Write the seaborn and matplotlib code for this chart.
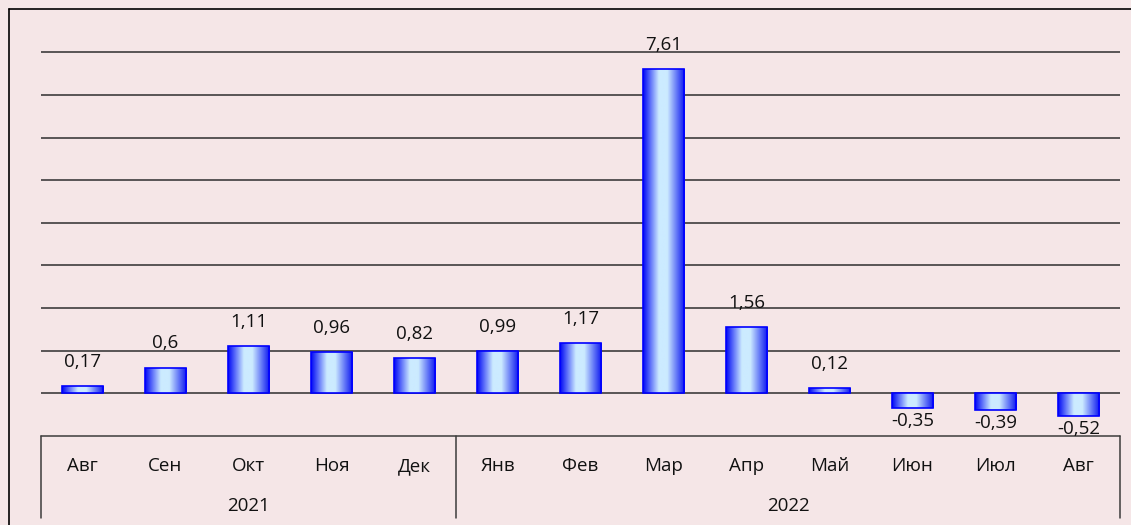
import numpy as np
import pandas as pd
import matplotlib
matplotlib.use("Agg")
import matplotlib.pyplot as plt
import matplotlib.transforms as mtransforms
from matplotlib.colors import LinearSegmentedColormap
from matplotlib.lines import Line2D
import seaborn as sns

# data
months = ["Авг", "Сен", "Окт", "Ноя", "Дек", "Янв", "Фев", "Мар", "Апр", "Май", "Июн", "Июл", "Авг"]
years = ["2021"] * 5 + ["2022"] * 8
values = [0.17, 0.6, 1.11, 0.96, 0.82, 0.99, 1.17, 7.61, 1.56, 0.12, -0.35, -0.39, -0.52]

df = pd.DataFrame({"month": months, "year": years, "value": values})
df["period"] = df["year"] + "-" + df.index.astype(str)

bg = "#F5E6E7"
sns.set_theme(style="white", rc={"axes.facecolor": bg, "figure.facecolor": bg})
plt.rcParams["font.family"] = ["Open Sans", "DejaVu Sans"]

fig = plt.figure(figsize=(11.31, 5.25), dpi=100)
W, H = 1131, 525
ax = fig.add_axes([41 / W, 1 - 436 / H, (1120 - 41) / W, (436 - 9.6) / H])

sns.barplot(data=df, x="period", y="value", order=df["period"], width=0.5,
            color="#0000FF", edgecolor="#0000FF", linewidth=1.2, ax=ax)

# horizontal gradient inside each bar
cmap = LinearSegmentedColormap.from_list(
    "bar", [(0, "#0008F5"), (0.38, "#CCEBFF"), (0.58, "#CCEBFF"), (1, "#0A14F0")])
grad = np.linspace(0, 1, 256).reshape(1, -1)
for p in ax.patches:
    x0, y0 = p.get_x(), p.get_y()
    w, h = p.get_width(), p.get_height()
    im = ax.imshow(grad, cmap=cmap, aspect="auto", zorder=2.5,
                   extent=[x0, x0 + w, min(y0, y0 + h), max(y0, y0 + h)])
    im.set_clip_path(p)
    p.set_facecolor("none")
    p.set_zorder(3)

ax.set_xlim(-0.5, len(values) - 0.5)
ax.set_ylim(-1, 9)
ax.set_yticks(range(0, 9))
ax.yaxis.grid(True, color="#2e2e2e", linewidth=1.1)
ax.set_axisbelow(True)
ax.tick_params(left=False, bottom=False, labelleft=False, labelbottom=False)
ax.set_xlabel("")
ax.set_ylabel("")
for s in ax.spines.values():
    s.set_visible(False)

fs = 13.5
# value labels
for i, v in enumerate(values):
    txt = str(v).replace(".", ",")
    if v >= 0:
        ax.annotate(txt, (i, v), xytext=(0, 11), textcoords="offset points",
                    ha="center", va="bottom", fontsize=fs, color="#111111")
    else:
        ax.annotate(txt, (i, v), xytext=(0, -3), textcoords="offset points",
                    ha="center", va="top", fontsize=fs, color="#111111")

# category table below the axis
tr = mtransforms.blended_transform_factory(ax.transData, ax.transAxes)
tbl_bot = (436 - 518) / (436 - 9.6)
n = len(values)
line_kw = dict(color="#3c3c3c", linewidth=1.1, clip_on=False, transform=tr)
ax.plot([-0.5, n - 0.5], [0, 0], **line_kw)
for xb in [-0.5, 4.5, n - 0.5]:
    ax.plot([xb, xb], [0, tbl_bot], **line_kw)

month_y = (436 - 466) / (436 - 9.6)
year_y = (436 - 506) / (436 - 9.6)
for i, m in enumerate(months):
    ax.text(i, month_y, m, transform=tr, ha="center", va="center", fontsize=fs, color="#111111")
ax.text(2, year_y, "2021", transform=tr, ha="center", va="center", fontsize=fs, color="#111111")
ax.text(8.5, year_y, "2022", transform=tr, ha="center", va="center", fontsize=fs, color="#111111")

# outer frame (top and left edges)
fig.add_artist(Line2D([9 / W, 1], [1 - 9 / H, 1 - 9 / H], color="black", linewidth=1.2))
fig.add_artist(Line2D([9 / W, 9 / W], [0, 1 - 9 / H], color="black", linewidth=1.2))

fig.savefig("out.png", dpi=100, facecolor=bg)
